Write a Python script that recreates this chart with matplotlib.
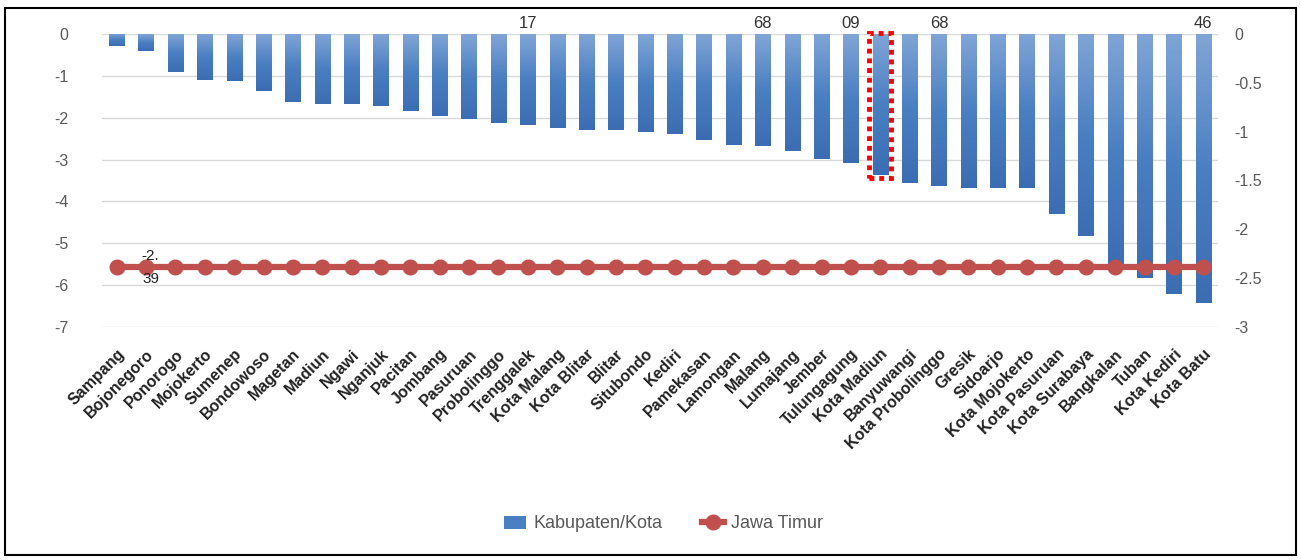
import matplotlib.pyplot as plt
import numpy as np
from matplotlib.patches import Rectangle
from matplotlib.colors import LinearSegmentedColormap

plt.rcParams['font.family'] = ['Liberation Sans', 'DejaVu Sans']
plt.rcParams['axes.unicode_minus'] = False

# data
regions = ['Sampang', 'Bojonegoro', 'Ponorogo', 'Mojokerto', 'Sumenep', 'Bondowoso',
           'Magetan', 'Madiun', 'Ngawi', 'Nganjuk', 'Pacitan', 'Jombang', 'Pasuruan',
           'Probolinggo', 'Trenggalek', 'Kota Malang', 'Kota Blitar', 'Blitar',
           'Situbondo', 'Kediri', 'Pamekasan', 'Lamongan', 'Malang', 'Lumajang',
           'Jember', 'Tulungagung', 'Kota Madiun', 'Banyuwangi', 'Kota Probolinggo',
           'Gresik', 'Sidoarjo', 'Kota Mojokerto', 'Kota Pasuruan', 'Kota Surabaya',
           'Bangkalan', 'Tuban', 'Kota Kediri', 'Kota Batu']
kab_values = [-0.29, -0.40, -0.90, -1.11, -1.12, -1.36, -1.63, -1.68, -1.68, -1.71,
              -1.83, -1.97, -2.02, -2.12, -2.17, -2.25, -2.29, -2.29, -2.33, -2.40,
              -2.54, -2.65, -2.67, -2.79, -2.98, -3.08, -3.38, -3.56, -3.63, -3.67,
              -3.68, -3.68, -4.29, -4.83, -5.55, -5.83, -6.22, -6.43]
jatim_value = -2.39
jatim_values = [jatim_value] * len(regions)

# clipped data labels visible at the top of the chart
top_labels = {'Trenggalek': '17', 'Malang': '68', 'Tulungagung': '09',
              'Kota Probolinggo': '68', 'Kota Batu': '46'}
highlight = 'Kota Madiun'

fig = plt.figure(figsize=(13.01, 5.6), dpi=100)
W, H = 1301, 560
ax = fig.add_axes([102 / W, 1 - 327 / H, 1116 / W, 293 / H])
ax2 = ax.twinx()

x = np.arange(len(regions))
bars = ax.bar(x, kab_values, width=0.52, color='#4a7fc2', zorder=2,
              label='Kabupaten/Kota')

# vertical gradient on each bar
grad = np.linspace(0, 1, 100).reshape(-1, 1)
cmap = LinearSegmentedColormap.from_list('bar', ['#80a5d6', '#4a7fc2', '#3c6db3'])
for b in bars:
    bx, by = b.get_x(), b.get_y()
    bw, bh = b.get_width(), b.get_height()
    im = ax.imshow(grad, extent=[bx, bx + bw, by + bh, by], aspect='auto',
                   cmap=cmap, origin='upper', zorder=2.1)
    im.set_clip_path(b)

ax.set_xlim(-0.5, len(regions) - 0.5)
ax.set_ylim(-7, 0)
ax.set_yticks(np.arange(-7, 1, 1))
ax.grid(axis='y', color='#d9d9d9', linewidth=1, zorder=0)
ax.set_axisbelow(True)

ax2.plot(x, jatim_values, color='#c0504d', linewidth=4.5, marker='o',
         markersize=10.5, zorder=3, label='Jawa Timur')
ax2.set_ylim(-3, 0)
ax2.set_yticks(np.arange(-3, 0.01, 0.5))
ax2.set_yticklabels(['-3', '-2.5', '-2', '-1.5', '-1', '-0.5', '0'])

ax2.text(1.15, jatim_value, '-2.\n\n39', ha='center', va='center', fontsize=11,
         color='#222222', linespacing=0.8, zorder=5)

for a in (ax, ax2):
    for s in a.spines.values():
        s.set_visible(False)
    a.tick_params(length=0, labelsize=11.5, labelcolor='#595959')
ax.tick_params(axis='y', pad=24)
ax2.tick_params(axis='y', pad=12)

ax.set_xticks(x)
ax.set_xticklabels(regions, rotation=45, ha='right', rotation_mode='anchor',
                   fontsize=11.5, fontweight='bold', color='#222222')
ax.tick_params(axis='x', pad=14)

for name, lab in top_labels.items():
    i = regions.index(name)
    ax.annotate(lab, (i, 0), xytext=(0, 2), textcoords='offset points',
                ha='center', va='bottom', fontsize=12, color='#333333',
                annotation_clip=False)

# dotted highlight box
hi = regions.index(highlight)
hb = bars[hi]
ax.add_patch(Rectangle((hb.get_x() - 0.12, hb.get_height() - 0.05),
                       hb.get_width() + 0.24, -hb.get_height() + 0.08,
                       fill=False, edgecolor='red', linestyle=(0, (1, 1)),
                       linewidth=3.5, zorder=4, clip_on=False))

h1, l1 = ax.get_legend_handles_labels()
h2, l2 = ax2.get_legend_handles_labels()
fig.legend(h1 + h2, l1 + l2, loc='center', bbox_to_anchor=(0.51, 1 - 524 / H),
           ncol=2, frameon=False, fontsize=13, labelcolor='#595959',
           handlelength=1.2, handletextpad=0.4, columnspacing=2.2)

# outer frame
fig.patches.append(Rectangle((5 / W, 1 - 555 / H), 1291 / W, 547 / H,
                             transform=fig.transFigure, fill=False,
                             edgecolor='black', linewidth=1.5))

fig.savefig('out.png', dpi=100, facecolor='white')
